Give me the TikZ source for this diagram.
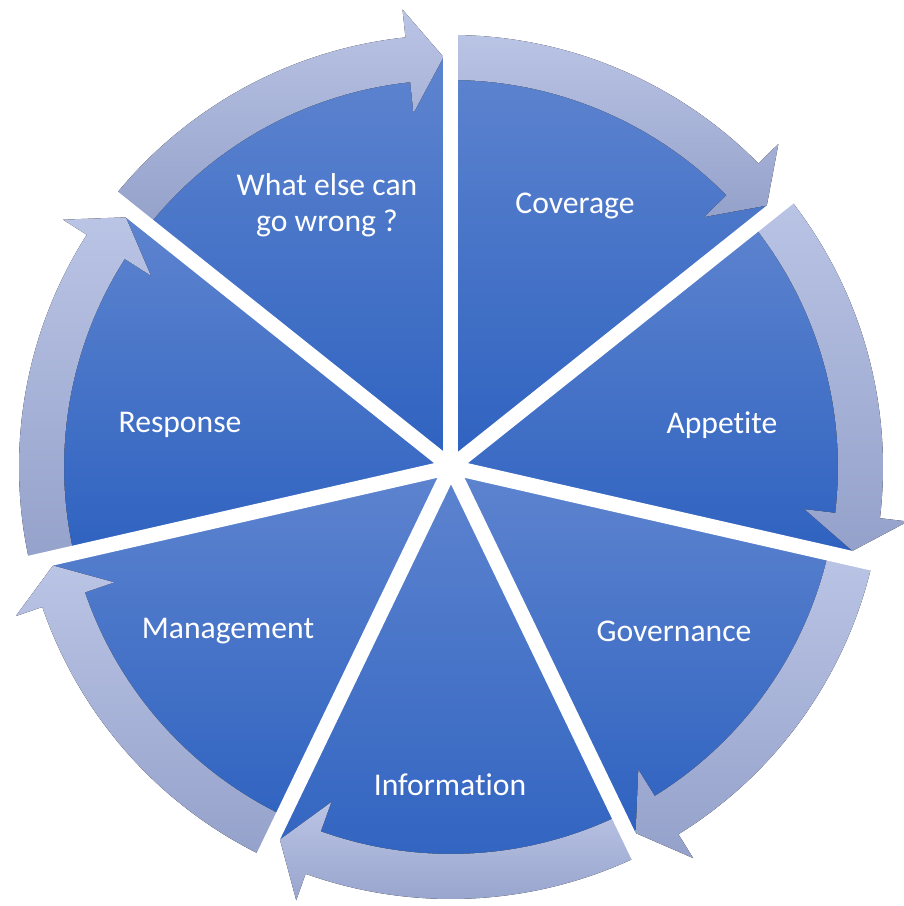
\documentclass[tikz,border=0pt]{standalone}
\usepackage{fontspec}
\setmainfont{Carlito}[Ligatures=NoCommon]
\usepackage{tikz}
\usetikzlibrary{calc}
\definecolor{segtop}{RGB}{94,132,207}
\definecolor{segbot}{RGB}{46,98,192}
\definecolor{ringtop}{RGB}{186,196,229}
\definecolor{ringbot}{RGB}{148,161,202}
\tikzset{
  segment/.style={top color=segtop, bottom color=segbot, draw=none},
  ring/.style={top color=ringtop, bottom color=ringbot, draw=none},
  gapline/.style={white, line width=3mm},
  lbl/.style={text=white, font=\fontsize{18}{20.5}\selectfont, align=center, inner sep=0pt}
}

\begin{document}
\begin{tikzpicture}[x=0.2mm, y=0.2mm]
\useasboundingbox (-451,-439) rectangle (452,467);
% pie segments, 360/7 each, the first one starting at the top
\foreach \i in {0,...,6} {
  \pgfmathsetmacro\a{90-\i*360/7}
  \pgfmathsetmacro\b{\a-360/7}
  \fill[segment] (0,0) -- (\a:410) arc[start angle=\a, end angle=\b, radius=410] -- cycle;
}
% curved arrows on the rim, running clockwise
\foreach \i in {0,...,6} {
  \pgfmathsetmacro\a{90-\i*360/7}
  \pgfmathsetmacro\t{\a-360/7+1.05}
  \pgfmathsetmacro\h{\t+5}
  \fill[ring] (\a:432) arc[start angle=\a, end angle=\h, radius=432]
    -- (\h:460) -- (\t:410) -- (\h:356) -- (\h:387)
    arc[start angle=\h, end angle=\a, radius=387] -- cycle;
}
% white gaps between segments
\foreach \i in {0,...,6}
  \draw[gapline] (0,0) -- ({90-\i*360/7}:475);

\node[lbl] (coverage) at (124,261) {Coverage};
\node[lbl] (appetite) at (271,42) {Appetite};
\node[lbl] (governance) at (223,-164) {Governance};
\node[lbl] (information) at (-1,-318) {Information};
\node[lbl] (management) at (-223,-164) {Management};
\node[lbl] (response) at (-271,42) {Response};
\node[lbl] (whatelse) at (-124,262) {What else can\\go wrong ?};
\end{tikzpicture}
\end{document}
